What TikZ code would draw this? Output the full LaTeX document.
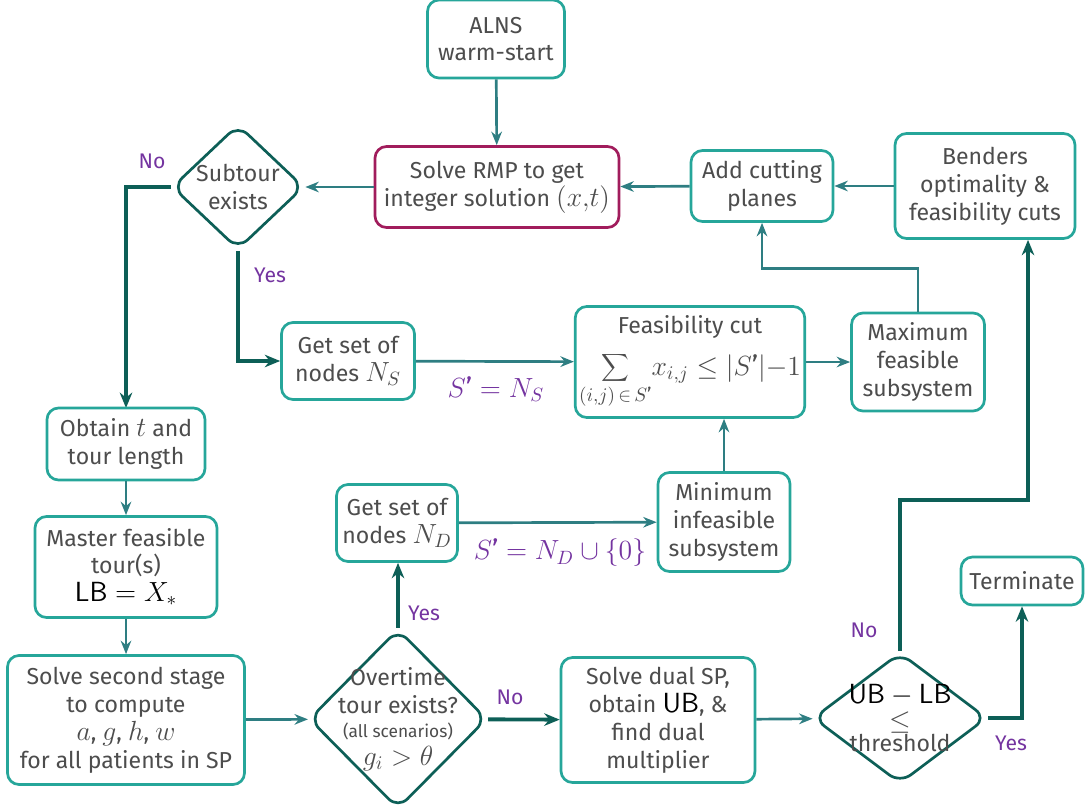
\documentclass[tikz,border=0pt]{standalone}
\usepackage{fontspec}
\setmainfont{Fira Sans}
\usetikzlibrary{arrows.meta,shapes.geometric}
\DeclareMathSizes{12}{14.4}{10}{7}
\DeclareMathSizes{9}{10}{7}{5}
\definecolor{Txt}{HTML}{4D4D4D}
\definecolor{BoxEdge}{HTML}{26A69A}
\definecolor{Dark}{HTML}{0D5F57}
\definecolor{Flow}{HTML}{2E7E82}
\definecolor{Plum}{HTML}{7434A0}
\definecolor{Rmp}{HTML}{A11C5C}
\newcommand{\Sp}{S\mathchar"0027}
\tikzset{box/.style={draw=BoxEdge,line width=1.4pt,rounded corners=6pt,fill=white,align=center,text=Txt,font=\fontsize{12}{14.5}\selectfont,inner sep=2pt},sz/.style 2 args={minimum width=#1*0.52pt,minimum height=#2*0.52pt},dec/.style={diamond,draw=Dark,line width=1.4pt,rounded corners=7pt,fill=white,inner sep=0pt},dectxt/.style={align=center,text=Txt,font=\fontsize{12}{14.5}\selectfont,inner sep=0pt},flow/.style={-{Stealth[length=7pt,width=5.5pt]},line width=1.4pt,draw=Flow},branch/.style={-{Stealth[length=8pt,width=6.5pt]},line width=2pt,draw=Dark},lab/.style={text=Plum,font=\fontsize{11}{13}\selectfont}}

\begin{document}
\begin{tikzpicture}[x=0.52pt,y=-0.52pt]
\useasboundingbox (0,0) rectangle (1086,809);
% top row
\node[box,sz={137}{78}] (alns) at (496,39) {ALNS\\warm-start};
\node[box,draw=Rmp,sz={244}{81}] (rmp) at (497,187) {Solve RMP to get\\integer solution $(x{,}t)$};
\node[dec,sz={132}{125},label={[dectxt]center:{Subtour\\exists}}] (sub) at (238,187) {};
\node[box,sz={142}{71}] (cut) at (762,186) {Add cutting\\planes};
\node[box,sz={180}{105}] (bend) at (985,186) {Benders\\optimality \&\\feasibility cuts};
\draw[flow] (alns)--(rmp);
\draw[flow] (rmp)--(sub);
\draw[flow] (cut)--(rmp);
\draw[flow] (bend)--(cut);

% cuts
\node[box,sz={133}{77}] (ns) at (348,361) {Get set of\\nodes $N_S$};
\node[box,sz={220}{111}] (fcut) at (690,362)
  {Feasibility cut\\[7pt]$\displaystyle\sum_{(i,j)\,\in\,\Sp}\! x_{i,j}\le|\Sp|{-}1$};
\node[box,sz={133}{98}] (maxf) at (918,362) {Maximum\\feasible\\subsystem};
\node[box,sz={121}{77}] (nd) at (397,523) {Get set of\\nodes $N_D$};
\node[box,sz={132}{99}] (minf) at (724,522) {Minimum\\infeasible\\subsystem};
\draw[branch] (sub.west) -| (126,408);
\draw[branch] (sub.south) |- (ns.west);
\draw[flow] (ns)--(fcut);
\draw[flow] (fcut)--(maxf);
\draw[flow] (maxf.north)--++(0,-43) -| (cut.south);
\draw[flow] (minf.north)--(minf.north |- fcut.south);
\draw[flow] (nd)--(minf);
\node[lab] (no1) at (152,161) {No};
\node[lab] (yes1) at (270,275) {Yes};
\node[lab,font=\fontsize{12}{14}\selectfont] (eqs) at (496,389) {$\Sp=N_S$};
\node[lab,font=\fontsize{12}{14}\selectfont] (eqd) at (560,553) {$\Sp=N_D\cup\{0\}$};

% left column
\node[box,sz={158}{72}] (obt) at (126,444) {Obtain $t$ and\\tour length};
\node[box,sz={182}{101}] (mast) at (126,567) {Master feasible\\tour(s)\\{\color{black}$\mathsf{LB}=X_*$}};
\node[box,sz={237}{129}] (sec) at (126,720) {Solve second stage\\to compute\\$a$, $g$, $h$, $w$\\for all patients in SP};
\draw[flow] (obt)--(mast);
\draw[flow] (mast)--(sec);

% bottom row
\node[dec,sz={178}{180},label={[dectxt]center:{Overtime\\tour exists?\\[-2pt]{\fontsize{9}{11}\selectfont(all scenarios)}\\$g_i>\theta$}}] (over) at (398,719) {};
\node[box,sz={194}{125}] (dual) at (658,720) {Solve dual SP,\\obtain {\color{black}$\mathsf{UB}$}, \&\\find dual\\multiplier};
\node[dec,sz={174}{131},label={[dectxt]center:{{\color{black}$\mathsf{UB}-\mathsf{LB}$}\\[-1pt]$\le$\\[-3pt]threshold}}] (gap) at (900,718) {};
\node[box,sz={122}{48}] (term) at (1022,581) {Terminate};
\coordinate (up) at (1028,500);
\draw[flow] (sec)--(over);
\draw[branch] (over.north)--(over.north |- nd.south);
\draw[branch] (over)--(dual);
\draw[flow] (dual)--(gap);
\draw[branch] (gap.north) |- (up)--(up |- bend.south);
\draw[branch] (gap.east) -| (term.south);
\node[lab] (yes2) at (424,613) {Yes};
\node[lab] (no2) at (510,697) {No};
\node[lab] (no3) at (864,630) {No};
\node[lab] (yes3) at (1011,743) {Yes};
\end{tikzpicture}
\end{document}
